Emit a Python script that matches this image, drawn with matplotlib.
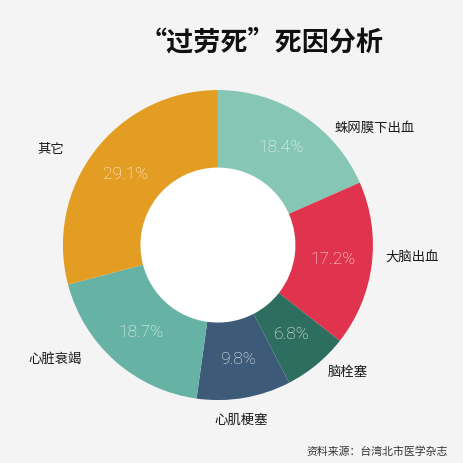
import matplotlib
matplotlib.use("Agg")
import matplotlib.pyplot as plt

plt.rcParams['font.family'] = ['Noto Sans CJK SC', 'DejaVu Sans']

# data (clockwise from 12 o'clock)
categories = ["蛛网膜下出血", "大脑出血", "脑栓塞", "心肌梗塞", "心脏衰竭", "其它"]
values = [18.4, 17.2, 6.8, 9.8, 18.7, 29.1]
colors = ["#86c6b4", "#e0344e", "#2e6e60", "#3d5a78", "#66b2a5", "#e39d22"]
title = "“过劳死”死因分析"
source = "资料来源：台湾北市医学杂志"

# layout: label anchors (data units, pie radius = 1) and alignment
label_pos = [(0.755, 0.755), (1.077, -0.077), (0.710, -0.819),
             (0.148, -1.129), (-0.877, -0.735), (-0.994, 0.619)]
label_ha = ["left", "left", "left", "center", "right", "right"]

BG = "#f4f4f4"
fig = plt.figure(figsize=(4.63, 4.63), dpi=100, facecolor=BG)
ax = fig.add_axes([0, 0, 1, 1])
ax.set_facecolor(BG)

wedges, texts, autotexts = ax.pie(
    values, colors=colors, startangle=90, counterclock=False,
    radius=1.0, wedgeprops=dict(width=0.5, linewidth=0),
    autopct=lambda p: f"{p:.1f}%", pctdistance=0.75,
    textprops=dict(color="white", fontsize=12.5, family=["Roboto", "DejaVu Sans"],
                   fontweight="light", alpha=0.92))
# inner hole white
ax.add_patch(plt.Circle((0, 0), 0.5, color="white", zorder=0.5))

for (x, y), ha, name in zip(label_pos, label_ha, categories):
    ax.text(x, y, name, ha=ha, va="center", fontsize=9.6, color="#1a1a1a",
            fontweight="medium")

ax.set_xlim(-1.406, 1.581)
ax.set_ylim(-1.406, 1.581)
ax.set_aspect("equal")
ax.axis("off")

fig.text(262 / 463, 1 - 42 / 463, title, ha="center", va="center",
         fontsize=19.5, fontweight="heavy", color="#111111")
fig.text(448 / 463, 1 - 452 / 463, source, ha="right", va="center",
         fontsize=7.8, color="#333333", fontweight="medium")

fig.savefig("out.png", dpi=100, facecolor=BG)
